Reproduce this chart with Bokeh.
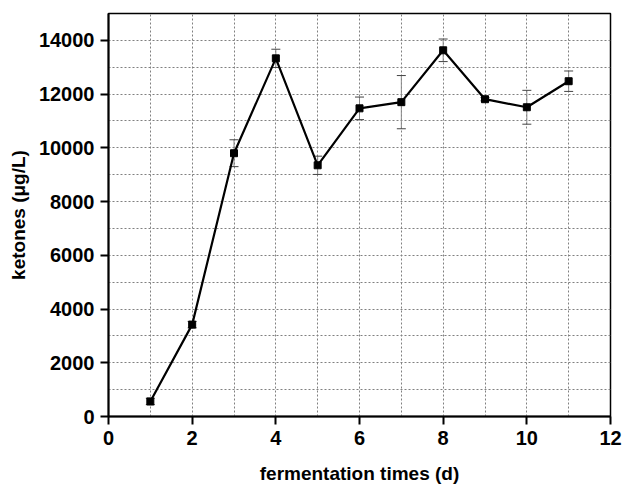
from bokeh.plotting import figure
from bokeh.models import Range1d, SingleIntervalTicker, FixedTicker, ColumnDataSource, Whisker, TeeHead
from bokeh.embed import file_html
from bokeh.resources import INLINE

days = [1, 2, 3, 4, 5, 6, 7, 8, 9, 10, 11]
ketones = [560, 3420, 9800, 13330, 9350, 11470, 11700, 13630, 11810, 11510, 12480]
errors = [120, 120, 500, 340, 340, 420, 990, 420, 60, 630, 380]
x_ticks = [0, 2, 4, 6, 8, 10, 12]
y_ticks = [0, 2000, 4000, 6000, 8000, 10000, 12000, 14000]

p = figure(width=625, height=486, output_backend="svg", toolbar_location=None,
           x_range=Range1d(0, 12), y_range=Range1d(0, 15000),
           min_border_left=108, min_border_right=15, min_border_top=13, min_border_bottom=70)

p.outline_line_color = "black"
p.outline_line_width = 1.5

for ax in (p.xaxis[0], p.yaxis[0]):
    ax.axis_line_width = 2
    ax.axis_line_color = "black"
    ax.major_tick_line_width = 2
    ax.major_tick_out = 8
    ax.major_tick_in = 0
    ax.minor_tick_line_color = None
    ax.major_label_text_font = "Liberation Sans"
    ax.major_label_text_font_style = "bold"
    ax.major_label_text_font_size = "20px"
    ax.major_label_text_color = "black"
    ax.major_label_standoff = 6
    ax.axis_label_text_font = "Liberation Sans"
    ax.axis_label_text_font_style = "bold"
    ax.axis_label_text_font_size = "19px"
    ax.axis_label_text_color = "black"

p.xaxis.ticker = FixedTicker(ticks=x_ticks)
p.yaxis.ticker = FixedTicker(ticks=y_ticks)
p.xaxis.axis_label = "fermentation times (d)"
p.yaxis.axis_label = "ketones (μg/L)"
p.xaxis.axis_label_standoff = 15
p.yaxis.axis_label_standoff = 7

p.xgrid.ticker = SingleIntervalTicker(interval=1)
p.ygrid.ticker = SingleIntervalTicker(interval=1000)
for g in (p.xgrid[0], p.ygrid[0]):
    g.grid_line_color = "#808080"
    g.grid_line_dash = "2 2"
    g.grid_line_width = 1

upper = [k + e for k, e in zip(ketones, errors)]
lower = [k - e for k, e in zip(ketones, errors)]
src = ColumnDataSource(data=dict(x=days, y=ketones, upper=upper, lower=lower))

w = Whisker(source=src, base="x", upper="upper", lower="lower",
            line_color="#888888", line_width=1,
            upper_head=TeeHead(size=9, line_color="#444444", line_width=1),
            lower_head=TeeHead(size=9, line_color="#444444", line_width=1))
p.add_layout(w)

p.line("x", "y", source=src, line_color="black", line_width=2.2)
p.scatter("x", "y", source=src, marker="square", size=7, fill_color="black", line_color="black")

open("out.html", "w").write(file_html(p, INLINE))
